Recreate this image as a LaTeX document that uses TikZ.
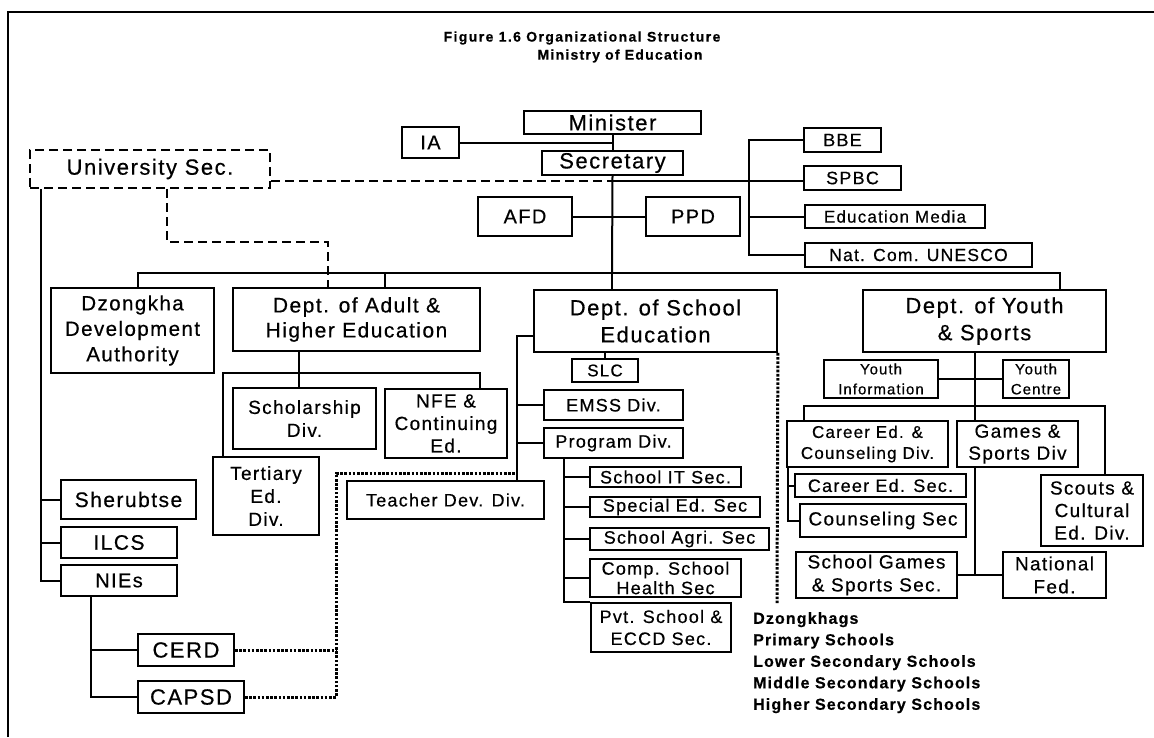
\documentclass[tikz,border=0pt]{standalone}
\usepackage{fontspec}
\setmainfont{Liberation Sans}[LetterSpace=7,FakeBold=0.5]
\newcommand{\fsz}[2]{\fontsize{#1}{#2}\selectfont}
\tikzset{
  x=1pt, y=-1pt,
  box/.style={draw, line width=1.8pt, inner sep=0pt, align=center},
  ln/.style={line width=2pt},
  dsh/.style={line width=2.6pt, dash pattern=on 9pt off 5pt},
  dotl/.style={line width=3pt, dash pattern=on 2.6pt off 1.6pt},
}
\newcommand{\BX}[7][]{\node[box,minimum width={#5-#3},minimum height={#6-#4},#1] (#2) at ({(#3+#5)/2},{(#4+#6)/2}) {#7};}
\begin{document}
\begin{tikzpicture}
\fill[white] (0,0) rectangle (1154,737);
\path[use as bounding box] (0,0) rectangle (1154,737);
% frame
\draw[ln] (8,737) -- (8,12) -- (1154,12);
% title
\node[font=\bfseries\addfontfeatures{LetterSpace=10}\fsz{14}{16}] (t1) at (582,38) {Figure 1.6 Organizational Structure};
\node[font=\bfseries\addfontfeatures{LetterSpace=9}\fsz{14}{16}] (t2) at (620,56) {Ministry of Education};

% top level
\BX[font=\fsz{22}{25}]{minister}{524}{111}{701}{134}{Minister}
\BX[font=\fsz{20}{23}]{ia}{402}{127}{459}{158}{IA}
\BX[font=\fsz{22}{25}]{sec}{542}{151}{683}{175}{Secretary}
\BX[font=\fsz{22}{25},dsh]{univ}{30}{150}{270}{188}{University Sec.}
\BX[font=\fsz{20}{23}]{afd}{478}{197}{572}{236}{AFD}
\BX[font=\fsz{20}{23}]{ppd}{646}{197}{740}{236}{PPD}
\BX[font=\fsz{18}{21}]{bbe}{804}{128}{881}{152}{BBE}
\BX[font=\fsz{18}{21}]{spbc}{804}{166}{901}{190}{SPBC}
\BX[font=\fsz{17}{20}]{media}{805}{205}{985}{228}{Education Media}
\BX[font=\fsz{17.5}{20}]{unesco}{805}{243}{1032}{267}{Nat. Com. UNESCO}

\coordinate (j1) at (612,181);
\coordinate (bus) at (612,273);
\coordinate (rv) at (749,0);
\draw[ln] (minister.south) -- (sec.north);
\draw[ln] (ia.east) -- (ia.east -| minister.south);
\draw[dsh] (univ.east |- j1) -- (j1);
\draw[ln] (j1) -- (spbc.west |- j1);
\draw[ln] (sec.south) -- (bus);
\draw[ln] (afd.east) -- (ppd.west);
\draw[ln] (bbe.west) -- (bbe.west -| rv) -- (unesco.west -| rv) -- (unesco.west);
\draw[ln] (media.west -| rv) -- (media.west);

% departments
\BX[font=\fsz{20.5}{25.5}]{dz}{51}{288}{214}{373}{Dzongkha\\Development\\Authority}
\BX[font=\fsz{21}{25}]{adult}{233}{288}{480}{351}{Dept. of Adult \&\\Higher Education}
\BX[font=\fsz{22}{27}]{school}{534}{290}{777}{352}{Dept. of School\\Education}
\BX[font=\fsz{22}{27}]{youth}{863}{290}{1106}{352}{Dept. of Youth\\\& Sports}

\coordinate (b1) at (138,273);
\coordinate (b2) at (385,273);
\coordinate (b4) at (1060,273);
\draw[ln] (b1 |- dz.north) -- (b1) -- (b4) -- (b4 |- youth.north);
\draw[ln] (b2) -- (b2 |- adult.north);
\draw[ln] (bus) -- (bus |- school.north);

% university dashed link
\coordinate (d1) at (167,242);
\coordinate (d2) at (328,242);
\draw[dsh] (univ.south -| d1) -- (d1) -- (d2) -- (d2 |- adult.north);

% left tree
\BX[font=\fsz{21}{24}]{sher}{61}{480}{196}{519}{Sherubtse}
\BX[font=\fsz{21}{24}]{ilcs}{61}{527}{177}{558}{ILCS}
\BX[font=\fsz{20}{23}]{nies}{61}{565}{177}{596}{NIEs}
\BX[font=\fsz{22}{25}]{cerd}{138}{634}{234}{666}{CERD}
\BX[font=\fsz{22}{25}]{capsd}{138}{681}{244}{713}{CAPSD}
\coordinate (lv) at (41,0);
\coordinate (nv) at (91,0);
\draw[ln] (univ.south -| lv) |- (nies.west);
\draw[ln] (sher.west -| lv) -- (sher.west);
\draw[ln] (ilcs.west -| lv) -- (ilcs.west);
\draw[ln] (nies.south -| nv) |- (capsd.west);
\draw[ln] (cerd.west -| nv) -- (cerd.west);

% adult & higher education subtree
\BX[font=\fsz{19}{23}]{schol}{233}{388}{376}{449}{Scholarship\\Div.}
\BX[font=\fsz{19}{22.5}]{nfe}{385}{389}{507}{458}{NFE \&\\Continuing\\Ed.}
\BX[font=\fsz{19}{23}]{tert}{213}{457}{319}{535}{Tertiary\\Ed.\\Div.}
\BX[font=\fsz{18}{21}]{teach}{347}{481}{544}{519}{Teacher Dev. Div.}
\coordinate (ab) at (299,373);
\coordinate (al) at (223,373);
\coordinate (ar) at (480,373);
\draw[ln] (adult.south -| ab) -- (ab |- schol.north);
\draw[ln] (al |- tert.north) -- (al) -- (ar) -- (ar |- nfe.north);

% school education subtree
\BX[font=\fsz{17}{20}]{slc}{572}{359}{638}{382}{SLC}
\BX[font=\fsz{18}{21}]{emss}{544}{390}{683}{420}{EMSS Div.}
\BX[font=\fsz{18}{21}]{prog}{544}{428}{683}{458}{Program Div.}
\BX[font=\fsz{18}{21}]{it}{590}{467}{741}{487}{School IT Sec.}
\BX[font=\fsz{18}{21}]{sped}{590}{497}{760}{517}{Special Ed. Sec}
\BX[font=\fsz{18}{21}]{agri}{590}{528}{769}{550}{School Agri. Sec}
\BX[font=\fsz{18}{19.5}]{comp}{590}{559}{741}{597}{Comp. School\\Health Sec}
\BX[font=\fsz{18}{22}]{pvt}{591}{603}{731}{652}{Pvt. School \&\\ECCD Sec.}
\coordinate (st) at (517,336);
\coordinate (sv) at (517,473);
\coordinate (pv) at (564,0);
\coordinate (dv) at (336,473);
\coordinate (dd) at (777,603);
\draw[ln] (slc.north |- school.south) -- (slc.north);
\draw[ln] (school.west |- st) -- (st) -- (sv) -- (sv |- teach.north);
\draw[ln] (emss.west -| st) -- (emss.west);
\draw[ln] (prog.west -| st) -- (prog.west);
\draw[ln] (prog.south -| pv) -- (pv |- pvt.north) -- (pvt.north west);
\foreach \n in {it,sped,agri,comp} \draw[ln] (\n.west -| pv) -- (\n.west);
\draw[dotl] (school.south east) -- (dd);
\draw[dotl] (cerd.east) -- (cerd.east -| dv);
\draw[dotl] (capsd.east) -- (capsd.east -| dv) -- (dv) -- (sv);

\node[font=\bfseries\fsz{16}{21.5}, align=left, anchor=north west, inner sep=0pt] (dzlist) at (753,612)
  {Dzongkhags\\Primary Schools\\Lower Secondary Schools\\Middle Secondary Schools\\Higher Secondary Schools};

% youth & sports subtree
\BX[font=\fsz{15}{20}]{yinfo}{824}{360}{938}{398}{Youth\\Information}
\BX[font=\fsz{15}{20}]{ycen}{1003}{360}{1069}{398}{Youth\\Centre}
\BX[font=\fsz{17}{21}]{career}{787}{421}{948}{467}{Career Ed. \&\\Counseling Div.}
\BX[font=\fsz{19}{22}]{games}{957}{421}{1078}{467}{Games \&\\Sports Div}
\BX[font=\fsz{18}{21}]{cesec}{795}{474}{966}{497}{Career Ed. Sec.}
\BX[font=\fsz{19}{22}]{couns}{800}{504}{966}{537}{Counseling Sec}
\BX[font=\fsz{19}{22.5}]{scouts}{1041}{475}{1143}{546}{Scouts \&\\Cultural\\Ed. Div.}
\BX[font=\fsz{19}{23}]{sgames}{796}{552}{957}{598}{School Games\\\& Sports Sec.}
\BX[font=\fsz{19}{23}]{natfed}{1003}{552}{1106}{598}{National\\Fed.}
\coordinate (yv) at (975,0);
\coordinate (yl) at (804,406);
\coordinate (yr) at (1105,406);
\coordinate (cv) at (788,0);
\draw[ln] (youth.south -| yv) -- (yv |- games.north);
\draw[ln] (yv |- games.south) -- (yv |- sgames.east);
\draw[ln] (yinfo.east) -- (ycen.west);
\draw[ln] (yl |- career.north) -- (yl) -- (yr) -- (yr |- scouts.north);
\draw[ln] (career.south -| cv) |- (couns.west);
\draw[ln] (cesec.west -| cv) -- (cesec.west);
\draw[ln] (sgames.east) -- (natfed.west);
\end{tikzpicture}
\end{document}
